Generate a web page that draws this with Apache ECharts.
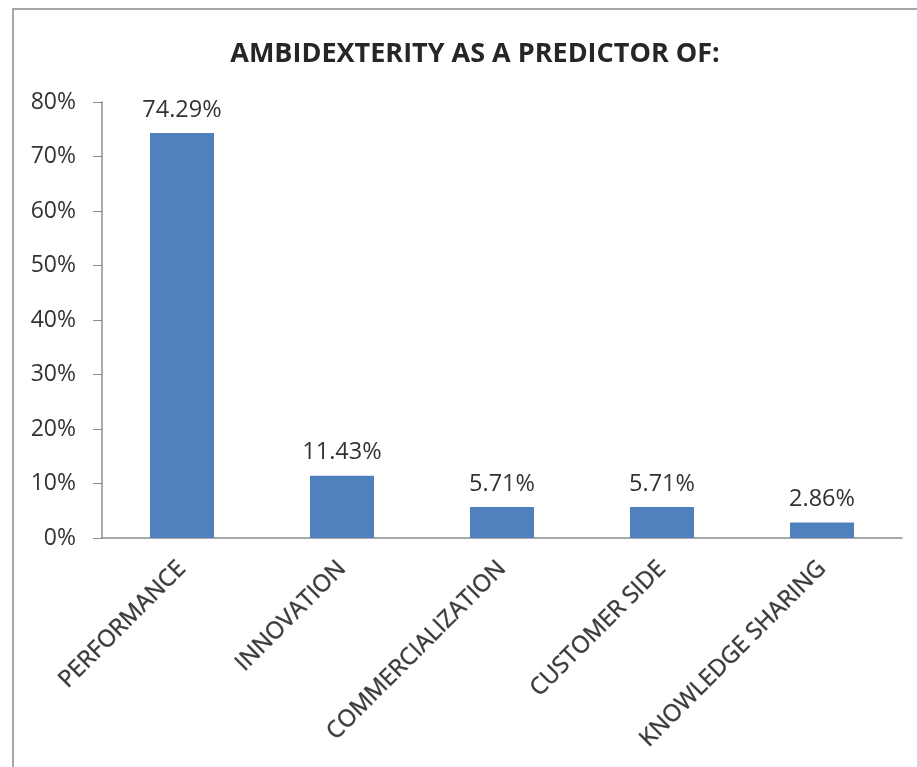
<!DOCTYPE html>
<html>
<head>
<meta charset="utf-8">
<script src="https://cdn.jsdelivr.net/npm/echarts@6/dist/echarts.min.js"></script>
<style>
  html, body { margin: 0; padding: 0; background: #fff; }
  #chart { width: 917px; height: 767px; }
</style>
</head>
<body>
<div id="chart"></div>
<script>
// Share of studies in which ambidexterity predicts each outcome (percent)
const categories = ['PERFORMANCE', 'INNOVATION', 'COMMERCIALIZATION', 'CUSTOMER SIDE', 'KNOWLEDGE SHARING'];
const shares = [74.29, 11.43, 5.71, 5.71, 2.86];
const yTicks = [0, 10, 20, 30, 40, 50, 60, 70, 80];

const chart = echarts.init(document.getElementById('chart'), null, { renderer: 'canvas' });
const FONT = '"Open Sans", "Noto Sans", sans-serif';

chart.setOption({
  animation: false,
  backgroundColor: '#ffffff',
  title: {
    text: 'AMBIDEXTERITY AS A PREDICTOR OF:',
    left: 470,
    top: 36,
    textAlign: 'center',
    textStyle: { fontFamily: FONT, fontSize: 27, fontWeight: 'bold', color: '#262626' }
  },
  graphic: [
    {
      type: 'polyline',
      shape: { points: [[13, 767], [13, 9], [917, 9]] },
      style: { stroke: '#a6a6a6', lineWidth: 2, fill: null }
    }
  ],
  grid: { left: 102, right: 15, top: 102, bottom: 229 },
  xAxis: {
    type: 'category',
    data: categories,
    axisLine: { lineStyle: { color: '#8c8c8c', width: 1.5 } },
    axisTick: { show: false },
    axisLabel: {
      rotate: 45,
      interval: 0,
      margin: 27,
      fontFamily: FONT,
      fontSize: 23.5,
      color: '#3a3a3a',
      textBorderColor: '#777',
      textBorderWidth: 0.6
    }
  },
  yAxis: {
    type: 'value',
    min: yTicks[0],
    max: yTicks[yTicks.length - 1],
    interval: 10,
    axisLine: { show: true, lineStyle: { color: '#8c8c8c', width: 1.5 } },
    axisTick: { show: true, length: 9, lineStyle: { color: '#8c8c8c' } },
    splitLine: { show: false },
    axisLabel: {
      margin: 26,
      fontFamily: FONT,
      fontSize: 23,
      color: '#333',
      formatter: v => v + '%'
    }
  },
  series: [{
    type: 'bar',
    data: shares,
    barWidth: '40%',
    itemStyle: { color: '#4f81bd' },
    label: {
      show: true,
      position: 'top',
      distance: 11,
      fontFamily: FONT,
      fontSize: 23.5,
      color: '#333',
      formatter: p => p.value.toFixed(2) + '%'
    }
  }]
});
</script>
</body>
</html>
